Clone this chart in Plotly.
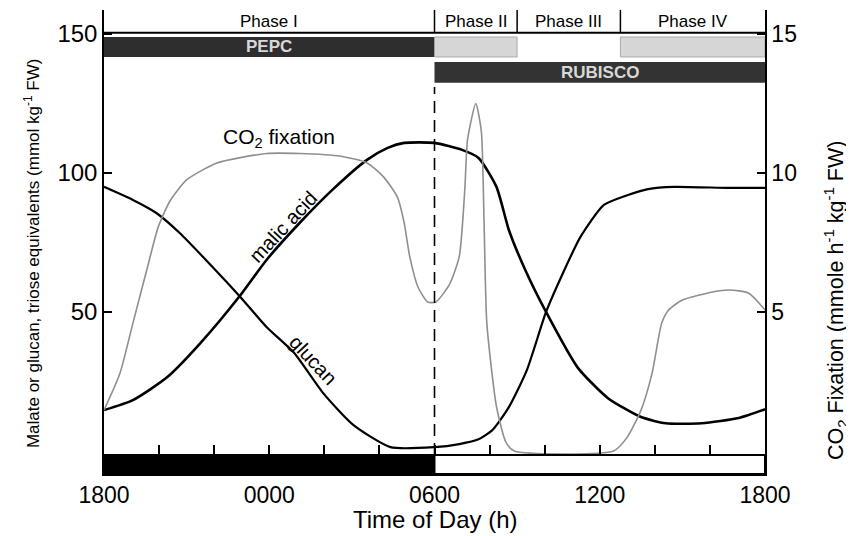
import plotly.graph_objects as go

# ---------------- data ----------------
# time in hours after 1800 (0 = 1800, 12 = 0600, 24 = 1800)
malic_t = [0, 1.05, 2.3, 3.5, 4.95, 5.9, 7.1, 8.3, 9.55, 10.3, 10.9, 12.0, 13.0, 13.6,
           14.25, 14.7, 15.3, 16.05, 17.2, 18.3, 19.5, 20.4, 21.7, 23.05, 24]
malic_v = [14.7, 18.3, 26.6, 38.8, 56, 68.7, 82, 94, 104.7, 109, 110.8, 110.8, 108.3, 105.4,
           95, 79.5, 65, 50, 30, 19, 12.2, 10, 10, 11.9, 15]

glucan_t = [0, 1.05, 1.9, 2.75, 3.7, 4.95, 5.9, 6.9, 7.95, 9.05, 10.4, 12.0, 12.9, 13.6,
            14.1, 14.7, 15.35, 16.05, 16.6, 17.3, 18.15, 19.0, 19.75, 20.7, 22.7, 24]
glucan_v = [95, 90.3, 85.6, 78.4, 68.7, 55.4, 44.6, 35.3, 20.9, 9.4, 1.4, 1.4, 2.5, 4.2,
            7.5, 15.8, 29, 50, 62.6, 77, 88.5, 92, 94.2, 95, 94.6, 94.6]

co2_t = [0, 0.58, 1.05, 1.55, 1.97, 2.4, 3.0, 4.1, 5.9, 7.1, 8.6, 9.55, 10.15, 10.65, 10.9,
         11.1, 11.4, 11.75, 12.05, 12.55, 12.9, 13.1, 13.2, 13.5, 13.7, 13.8, 13.9, 14.25,
         14.6, 14.9, 18.5, 19.0, 19.5, 19.9, 20.25, 20.5, 21.0, 22.1, 22.7, 23.4, 24]
co2_v = [1.47, 2.8, 4.6, 6.5, 8.06, 9.0, 9.75, 10.36, 10.7, 10.7, 10.6, 10.36, 9.86, 9.14, 8.2,
         7.0, 5.9, 5.36, 5.36, 6.0, 7.0, 9.4, 11.2, 12.5, 11.5, 8.2, 4.6, 1.6,
         0.3, 0, 0, 0.5, 1.47, 2.8, 4.6, 5.07, 5.43, 5.72, 5.79, 5.68, 5.07]

x_tickvals = [0, 6, 12, 18, 24]
x_ticktext = ["1800", "0000", "0600", "1200", "1800"]
x_minor = [0, 2, 4, 6, 8, 10, 12, 14, 16, 18, 20, 22, 24]
left_ticks = [50, 100, 150]
right_ticks = [5, 10, 15]

phase_names = ["Phase I", "Phase II", "Phase III", "Phase IV"]
phase_bounds = [0, 12, 15, 18.75, 24]
light_spans = [(12, 15), (18.75, 24)]
enzymes = ["PEPC", "RUBISCO"]
enzyme_spans = [(0, 12), (12, 24)]
dark_period = (0, 12)
light_period = (12, 24)

# ---------------- geometry (axis units) ----------------
Y_MIN, Y_MAX = -8.27, 158.6
AX_LINE = -1.44
TOP_LINE = 150.4
ROW1 = (141.7, 148.9)
ROW2 = (132.4, 139.9)

FONT = "Liberation Sans, Arial, Helvetica, sans-serif"

fig = go.Figure()
fig.add_trace(go.Scatter(x=co2_t, y=co2_v, yaxis="y2", mode="lines",
                         line=dict(color="#8f8f8f", width=1.6, shape="spline", smoothing=0.6),
                         hoverinfo="skip", showlegend=False))
fig.add_trace(go.Scatter(x=glucan_t, y=glucan_v, mode="lines",
                         line=dict(color="black", width=2.2, shape="spline", smoothing=0.6),
                         showlegend=False))
fig.add_trace(go.Scatter(x=malic_t, y=malic_v, mode="lines",
                         line=dict(color="black", width=2.6, shape="spline", smoothing=0.6),
                         showlegend=False))

shapes = []
# bottom light/dark bar
shapes.append(dict(type="rect", xref="x", yref="y", x0=dark_period[0], x1=dark_period[1],
                   y0=Y_MIN, y1=AX_LINE, fillcolor="black", line=dict(color="black", width=1)))
shapes.append(dict(type="rect", xref="x", yref="y", x0=light_period[0], x1=light_period[1],
                   y0=Y_MIN, y1=AX_LINE, fillcolor="white", line=dict(color="black", width=2)))
# dashed line at 0600
shapes.append(dict(type="line", xref="x", yref="y", x0=12, x1=12, y0=AX_LINE, y1=ROW2[0] - 1.5,
                   line=dict(color="black", width=1.6, dash="12px,7px")))
# top phase header
shapes.append(dict(type="line", xref="x", yref="y", x0=0, x1=24, y0=TOP_LINE, y1=TOP_LINE,
                   line=dict(color="black", width=2)))
for b in phase_bounds[1:-1]:
    shapes.append(dict(type="line", xref="x", yref="paper", x0=b, x1=b,
                       y0=(TOP_LINE - Y_MIN) / (Y_MAX - Y_MIN), y1=1,
                       line=dict(color="black", width=1.5)))
# enzyme bars
shapes.append(dict(type="rect", xref="x", yref="y", x0=enzyme_spans[0][0], x1=enzyme_spans[0][1],
                   y0=ROW1[0], y1=ROW1[1], fillcolor="#2e2e2e", line=dict(width=0)))
for a, b in light_spans:
    shapes.append(dict(type="rect", xref="x", yref="y", x0=a, x1=b, y0=ROW1[0], y1=ROW1[1],
                       fillcolor="#d6d6d6", line=dict(color="#9a9a9a", width=0.8)))
shapes.append(dict(type="rect", xref="x", yref="y", x0=enzyme_spans[1][0], x1=enzyme_spans[1][1],
                   y0=ROW2[0], y1=ROW2[1], fillcolor="#333333", line=dict(width=0)))

annotations = []
for i, name in enumerate(phase_names):
    annotations.append(dict(x=(phase_bounds[i] + phase_bounds[i + 1]) / 2, y=(TOP_LINE + Y_MAX) / 2,
                            xref="x", yref="y", text=name, showarrow=False,
                            font=dict(family=FONT, size=17, color="black")))
for (a, b), name, row in zip(enzyme_spans, enzymes, [ROW1, ROW2]):
    annotations.append(dict(x=(a + b) / 2, y=(row[0] + row[1]) / 2, xref="x", yref="y",
                            text="<b>" + name + "</b>", showarrow=False,
                            font=dict(family=FONT, size=17, color="#d8d8d8")))
# curve labels
annotations.append(dict(x=6.36, y=112.6, xref="x", yref="y", text="CO<sub>2</sub> fixation",
                        showarrow=False, font=dict(family=FONT, size=21, color="black")))
annotations.append(dict(x=6.5, y=80.5, xref="x", yref="y", text="malic acid", textangle=-47,
                        showarrow=False, font=dict(family=FONT, size=20, color="black")))
annotations.append(dict(x=7.6, y=32.8, xref="x", yref="y", text="glucan", textangle=47,
                        showarrow=False, font=dict(family=FONT, size=20, color="black")))
# axis titles
annotations.append(dict(x=-0.109, y=0.476, xref="paper", yref="paper",
                        text="Malate or glucan, triose equivalents (mmol kg<sup>-1</sup> FW)",
                        textangle=-90, showarrow=False, xanchor="center", yanchor="middle",
                        font=dict(family=FONT, size=17, color="black")))
annotations.append(dict(x=1.106, y=0.375, xref="paper", yref="paper",
                        text="CO<sub>2</sub> Fixation (mmole h<sup>-1</sup> kg<sup>-1</sup> FW)",
                        textangle=-90, showarrow=False, xanchor="center", yanchor="middle",
                        font=dict(family=FONT, size=21.5, color="black")))
annotations.append(dict(x=0.5, y=-0.099, xref="paper", yref="paper", text="Time of Day (h)",
                        showarrow=False, xanchor="center", yanchor="middle",
                        font=dict(family=FONT, size=24, color="black")))

axis_pos = (AX_LINE - Y_MIN) / (Y_MAX - Y_MIN)

fig.update_layout(
    width=846, height=528,
    margin=dict(l=96, r=89, t=2, b=62),
    paper_bgcolor="white", plot_bgcolor="white",
    font=dict(family=FONT, color="black"),
    showlegend=False,
    xaxis=dict(range=[0, 24], tickvals=x_tickvals, ticktext=x_ticktext, ticks="", showgrid=False,
               zeroline=False, showline=True, linecolor="black", linewidth=1.5,
               tickfont=dict(size=23), mirror=False),
    xaxis2=dict(range=[0, 24], overlaying="x", anchor="free", position=axis_pos, side="bottom",
                tickvals=x_minor, ticks="inside", ticklen=9, tickwidth=1.5, tickcolor="black",
                showticklabels=False, showgrid=False, zeroline=False, showline=True,
                linecolor="black", linewidth=2),
    yaxis=dict(range=[Y_MIN, Y_MAX], tickvals=left_ticks, ticks="inside", ticklen=8, tickwidth=1.5,
               tickcolor="black", showgrid=False, zeroline=False, showline=True, linecolor="black",
               linewidth=1.5, tickfont=dict(size=24)),
    yaxis2=dict(range=[Y_MIN / 10, Y_MAX / 10], overlaying="y", side="right", tickvals=right_ticks,
                ticks="inside", ticklen=8, tickwidth=1.5, tickcolor="black", showgrid=False,
                zeroline=False, showline=True, linecolor="black", linewidth=1.5,
                tickfont=dict(size=23)),
    shapes=shapes,
    annotations=annotations,
)
# invisible trace to activate the inner time axis
fig.add_trace(go.Scatter(x=[0], y=[-100], xaxis="x2", mode="markers", marker=dict(opacity=0),
                         hoverinfo="skip", showlegend=False))

fig.write_html("out.html")
